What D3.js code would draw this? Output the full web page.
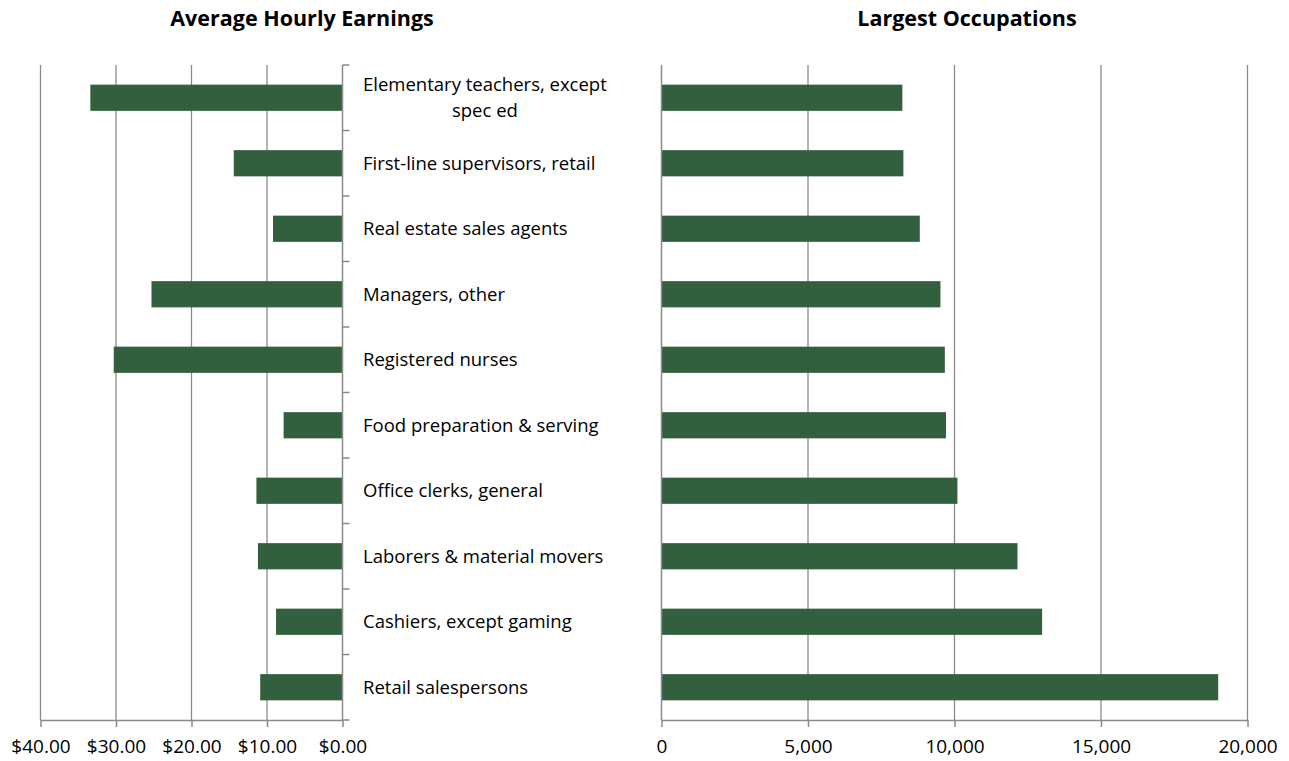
<!DOCTYPE html>
<html>
<head>
<meta charset="utf-8">
<script src="https://cdn.jsdelivr.net/npm/d3@7"></script>
<style>
  body { margin: 0; background: #fff; }
  svg text { font-family: "Open Sans", "Liberation Sans", sans-serif; fill: #000; }
  .title { font-weight: bold; font-size: 21.5px; }
  .tick-label { font-size: 19px; }
  .cat-label { font-size: 18.5px; }
</style>
</head>
<body>
<div class="chart"></div>
<script>
// occupations, top to bottom
const occupations = [
  "Elementary teachers, except spec ed",
  "First-line supervisors, retail",
  "Real estate sales agents",
  "Managers, other",
  "Registered nurses",
  "Food preparation & serving",
  "Office clerks, general",
  "Laborers & material movers",
  "Cashiers, except gaming",
  "Retail salespersons"
];
// average hourly earnings ($)
const hourlyEarnings = [33.4, 14.4, 9.2, 25.3, 30.3, 7.8, 11.4, 11.2, 8.8, 10.9];
// employment (largest occupations)
const employment = [8220, 8255, 8815, 9520, 9670, 9710, 10100, 12150, 12990, 19000];

const earningsTicks = [40, 30, 20, 10, 0];
const employmentTicks = [0, 5000, 10000, 15000, 20000];

const W = 1289, H = 761;
const barColor = "#325f3d";
const axisColor = "#8a8a8a";

const svg = d3.select(".chart")
  .append("svg")
  .attr("width", W)
  .attr("height", H);

// shared vertical band scale
const y = d3.scaleBand()
  .domain(occupations)
  .range([65, 720])
  .paddingInner(0.6)
  .paddingOuter(0.3);

// left chart: reversed, $40 on the left
const xLeft = d3.scaleLinear().domain([40, 0]).range([40.5, 342.5]);
// right chart
const xRight = d3.scaleLinear().domain([0, 20000]).range([661.5, 1247.5]);

// gridlines
svg.append("g")
  .selectAll("line")
  .data(earningsTicks.filter(d => d !== 0))
  .join("line")
  .attr("x1", d => xLeft(d)).attr("x2", d => xLeft(d))
  .attr("y1", 65).attr("y2", 720)
  .attr("stroke", axisColor).attr("stroke-width", 1.3);

svg.append("g")
  .selectAll("line")
  .data(employmentTicks.filter(d => d !== 0))
  .join("line")
  .attr("x1", d => xRight(d)).attr("x2", d => xRight(d))
  .attr("y1", 65).attr("y2", 720)
  .attr("stroke", axisColor).attr("stroke-width", 1.3);

// bars
svg.append("g")
  .selectAll("rect")
  .data(occupations)
  .join("rect")
  .attr("x", (d, i) => xLeft(hourlyEarnings[i]))
  .attr("y", d => y(d))
  .attr("width", (d, i) => xLeft(0) - xLeft(hourlyEarnings[i]))
  .attr("height", y.bandwidth())
  .style("fill", barColor);

svg.append("g")
  .selectAll("rect")
  .data(occupations)
  .join("rect")
  .attr("x", xRight(0))
  .attr("y", d => y(d))
  .attr("width", (d, i) => xRight(employment[i]) - xRight(0))
  .attr("height", y.bandwidth())
  .style("fill", barColor);

// axes
const xAxisLeft = d3.axisBottom(xLeft).tickValues(earningsTicks).tickSize(7).tickFormat(d => "$" + d3.format(".2f")(d));
const xAxisRight = d3.axisBottom(xRight).tickValues(employmentTicks).tickSize(7).tickFormat(d3.format(","));

function styleAxis(g) {
  g.attr("font-family", null).attr("font-size", null);
  g.select(".domain").attr("stroke", axisColor).attr("stroke-width", 1.5);
  g.selectAll(".tick line").attr("stroke", axisColor).attr("stroke-width", 1.5);
  g.selectAll(".tick text")
    .attr("class", "tick-label")
    .attr("y", 26)
    .attr("dy", "0.35em");
}

svg.append("g")
  .attr("class", "axis x-axis")
  .attr("transform", "translate(0,720)")
  .call(xAxisLeft.tickSizeOuter(0))
  .call(styleAxis);

svg.append("g")
  .attr("class", "axis x-axis")
  .attr("transform", "translate(0,720)")
  .call(xAxisRight.tickSizeOuter(0))
  .call(styleAxis);

// vertical axis lines
svg.append("line")
  .attr("x1", xLeft(0)).attr("x2", xLeft(0))
  .attr("y1", 65).attr("y2", 720)
  .attr("stroke", axisColor).attr("stroke-width", 1.5);
svg.append("line")
  .attr("x1", xRight(0)).attr("x2", xRight(0))
  .attr("y1", 65).attr("y2", 720)
  .attr("stroke", axisColor).attr("stroke-width", 1.5);

// category boundary ticks on the left chart's axis
const boundaries = d3.range(occupations.length + 1).map(i => 65 + i * y.step());
svg.append("g")
  .selectAll("line")
  .data(boundaries)
  .join("line")
  .attr("x1", xLeft(0)).attr("x2", xLeft(0) + 7)
  .attr("y1", d => d).attr("y2", d => d)
  .attr("stroke", axisColor).attr("stroke-width", 1.5);

// category labels: block starts at labelX, wrapped lines centred in the block
const labelX = 363;
svg.append("g")
  .selectAll("text")
  .data(occupations)
  .join("text")
  .attr("class", "cat-label")
  .attr("y", d => y(d) + y.bandwidth() / 2)
  .each(function(d) { wrap(d3.select(this), d, 262); });

function wrap(text, str, width) {
  const words = str.split(" ");
  let lines = [], line = [];
  const probe = text.append("tspan");
  words.forEach(w => {
    line.push(w);
    probe.text(line.join(" "));
    if (probe.node().getComputedTextLength() > width && line.length > 1) {
      line.pop();
      lines.push(line.join(" "));
      line = [w];
    }
  });
  lines.push(line.join(" "));
  probe.remove();

  if (lines.length === 1) {
    text.attr("x", labelX).attr("dy", "0.35em").text(lines[0]);
    return;
  }
  const lh = 26.5;
  const y0 = +text.attr("y") - (lines.length - 1) * lh / 2;
  const spans = lines.map((l, i) => text.append("tspan")
    .attr("y", y0 + i * lh)
    .attr("dy", "0.35em")
    .text(l));
  const maxW = d3.max(spans, s => s.node().getComputedTextLength());
  spans.forEach(s => s.attr("x", labelX + maxW / 2).attr("text-anchor", "middle"));
}

// titles
svg.append("text")
  .attr("class", "title")
  .attr("x", 302)
  .attr("y", 18)
  .attr("dy", "0.35em")
  .attr("text-anchor", "middle")
  .text("Average Hourly Earnings");

svg.append("text")
  .attr("class", "title")
  .attr("x", 967)
  .attr("y", 18)
  .attr("dy", "0.35em")
  .attr("text-anchor", "middle")
  .text("Largest Occupations");
</script>
</body>
</html>
